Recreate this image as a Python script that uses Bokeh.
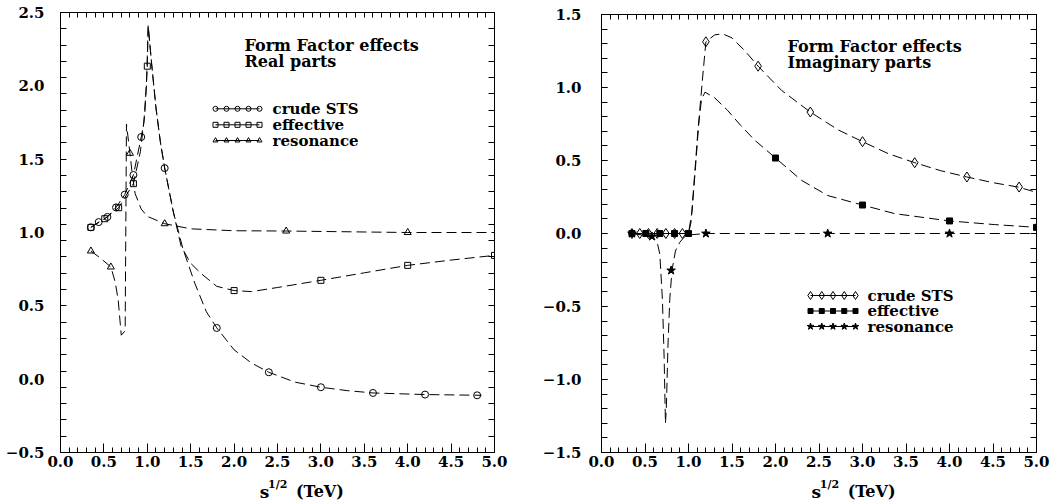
from bokeh.plotting import figure
from bokeh.models import Range1d, FixedTicker, LinearAxis, Label, CustomJSTickFormatter
from bokeh.layouts import row, column
from bokeh.core.properties import value
from bokeh.embed import file_html
from bokeh.resources import INLINE

# ---------------- data ----------------
# markers
crude_x = [0.35, 0.44, 0.54, 0.64, 0.74, 0.84, 0.93, 1.2, 1.8, 2.4, 3.0, 3.6, 4.2, 4.8]
crude_re = [1.035, 1.071, 1.106, 1.171, 1.258, 1.392, 1.651, 1.439, 0.349, 0.047, -0.055, -0.094, -0.105, -0.110]
crude_im = [0, 0, 0, 0, 0, 0, 0, 1.313, 1.146, 0.832, 0.629, 0.485, 0.387, 0.318]
eff_x = [0.35, 0.51, 0.67, 0.84, 1.0, 2.0, 3.0, 4.0, 5.0]
eff_re = [1.035, 1.094, 1.169, 1.333, 2.134, 0.604, 0.674, 0.776, 0.844]
eff_im = [0, 0, 0, 0, 0, 0.517, 0.195, 0.086, 0.042]
res_x = [0.35, 0.58, 0.80, 1.2, 2.6, 4.0]
res_re = [0.874, 0.765, 1.54, 1.06, 1.01, 1.0]
res_im = [0, -0.02, -0.253, 0, 0, 0]

# dashed curves, real parts
crude_re_cx = [0.35, 0.44, 0.54, 0.64, 0.74, 0.84, 0.93, 0.96, 0.99, 1.01, 1.05, 1.1, 1.15, 1.2, 1.3, 1.41, 1.55, 1.68, 1.8, 2.0, 2.2, 2.4, 2.7, 3.0, 3.3, 3.6, 4.2, 4.85]
crude_re_cy = [1.035, 1.071, 1.106, 1.171, 1.258, 1.392, 1.651, 1.75, 2.0, 2.41, 2.15, 1.85, 1.62, 1.44, 1.14, 0.89, 0.65, 0.46, 0.35, 0.2, 0.11, 0.047, -0.02, -0.055, -0.078, -0.094, -0.105, -0.11]
eff_re_cx = [0.35, 0.51, 0.67, 0.84, 0.92, 0.97, 1.0, 1.01, 1.05, 1.1, 1.15, 1.2, 1.3, 1.39, 1.5, 1.62, 1.8, 2.0, 2.2, 2.5, 3.0, 3.5, 4.0, 4.5, 5.0]
eff_re_cy = [1.035, 1.094, 1.169, 1.333, 1.55, 1.8, 2.134, 2.41, 2.15, 1.85, 1.62, 1.44, 1.14, 0.905, 0.79, 0.72, 0.633, 0.604, 0.597, 0.625, 0.674, 0.725, 0.776, 0.812, 0.844]
res_re_cx = [0.35, 0.45, 0.58, 0.63, 0.665, 0.70, 0.745, 0.76, 0.80, 0.83, 0.86, 0.93, 1.0, 1.2, 1.5, 2.0, 2.6, 4.0, 5.0]
res_re_cy = [0.874, 0.83, 0.765, 0.663, 0.538, 0.30, 0.33, 1.74, 1.54, 1.38, 1.265, 1.16, 1.11, 1.06, 1.025, 1.012, 1.01, 1.0, 1.0]

# dashed curves, imaginary parts
crude_im_cx = [0.35, 0.93, 1.0, 1.04, 1.08, 1.13, 1.17, 1.2, 1.3, 1.39, 1.5, 1.65, 1.8, 2.07, 2.4, 2.72, 3.0, 3.3, 3.6, 3.9, 4.2, 4.52, 4.79, 4.98]
crude_im_cy = [0, 0, 0, 0.15, 0.45, 0.85, 1.12, 1.313, 1.36, 1.368, 1.34, 1.25, 1.146, 0.98, 0.832, 0.71, 0.629, 0.546, 0.485, 0.43, 0.387, 0.346, 0.318, 0.285]
eff_im_cx = [0.35, 1.0, 1.03, 1.07, 1.11, 1.15, 1.19, 1.3, 1.45, 1.6, 1.76, 2.0, 2.3, 2.6, 3.0, 3.37, 4.0, 4.52, 5.0]
eff_im_cy = [0, 0, 0.08, 0.4, 0.72, 0.92, 0.968, 0.93, 0.843, 0.74, 0.64, 0.517, 0.364, 0.26, 0.195, 0.136, 0.086, 0.061, 0.042]
res_im_cx = [0.35, 0.58, 0.64, 0.67, 0.70, 0.72, 0.735, 0.745, 0.765, 0.785, 0.81, 0.85, 0.9, 0.95, 1.0, 1.2, 2.6, 4.0, 5.0]
res_im_cy = [0, -0.02, -0.06, -0.14, -0.45, -0.85, -1.30, -1.2, -0.75, -0.45, -0.253, -0.12, -0.06, -0.025, -0.01, 0, 0, 0, 0]

series_names = ["crude STS", "effective", "resonance"]
x_major = [0.5 * k for k in range(11)]
x_minor = [0.1 * k for k in range(51)]

FONT = "DejaVu Serif"
TICK_FS = "15px"
DASH = "10 5"

fmt = CustomJSTickFormatter(code="return tick.toFixed(1).replace('-', '\u2212');")
blank = CustomJSTickFormatter(code="return '';")


def make_panel(width, ml, mr, mt, mb, y0, y1, y_major, y_minor, ystand):
    p = figure(width=width, height=476, x_range=Range1d(0, 5), y_range=Range1d(y0, y1),
               output_backend="svg", toolbar_location=None,
               min_border_left=ml, min_border_right=mr, min_border_top=mt, min_border_bottom=mb)
    p.xgrid.visible = False
    p.ygrid.visible = False
    p.outline_line_color = "black"
    p.outline_line_width = 1
    p.background_fill_color = "white"
    p.border_fill_color = "white"

    xa = p.xaxis[0]
    xa.ticker = FixedTicker(ticks=x_major, minor_ticks=x_minor)
    xa.formatter = fmt
    xa.major_tick_in = 9
    xa.major_tick_out = 0
    xa.minor_tick_in = 5
    xa.minor_tick_out = 0
    xa.major_label_standoff = 3
    ya = p.yaxis[0]
    ya.ticker = FixedTicker(ticks=y_major, minor_ticks=y_minor)
    ya.formatter = fmt
    ya.major_tick_in = 0
    ya.major_tick_out = 0
    ya.minor_tick_in = 6
    ya.minor_tick_out = 0
    ya.major_label_standoff = ystand
    for a in (xa, ya):
        a.major_label_text_font = FONT
        a.major_label_text_font_style = "bold"
        a.major_label_text_font_size = TICK_FS
        a.major_label_text_color = "black"
        a.axis_line_color = "black"
        a.major_tick_line_color = "black"
        a.minor_tick_line_color = "black"

    top = LinearAxis(ticker=FixedTicker(ticks=x_minor, minor_ticks=[]), formatter=blank,
                     major_tick_in=5, major_tick_out=0, major_label_standoff=0,
                     major_label_text_font_size="1px", axis_line_color="black")
    right = LinearAxis(ticker=FixedTicker(ticks=y_minor, minor_ticks=[]), formatter=blank,
                       major_tick_in=6, major_tick_out=0, major_label_standoff=0,
                       major_label_text_font_size="1px", axis_line_color="black")
    p.add_layout(top, "above")
    p.add_layout(right, "right")
    return p


def add_text(p, x, y, text, size="15px", baseline="alphabetic"):
    p.add_layout(Label(x=x, y=y, x_units="screen", y_units="screen", text=text,
                       text_font=FONT, text_font_style="bold", text_font_size=size,
                       text_color="black", text_baseline=baseline, text_align="left"))


def caption(width, xs):
    # small strip under a panel holding the x-axis title s^{1/2} (TeV); units are pixels
    c = figure(width=width, height=26, x_range=Range1d(0, width), y_range=Range1d(0, 26),
               output_backend="svg", toolbar_location=None,
               min_border_left=0, min_border_right=0, min_border_top=0, min_border_bottom=0)
    c.axis.visible = False
    c.grid.visible = False
    c.outline_line_color = None
    c.background_fill_color = "white"
    c.border_fill_color = "white"
    common = dict(text_font=value(FONT), text_font_style="bold", text_color="black",
                  text_baseline="alphabetic", text_align="left")
    c.text(x=[xs], y=[11], text=["s"], text_font_size="17px", **common)
    c.text(x=[xs + 10], y=[18], text=["1/2"], text_font_size="11px", **common)
    c.text(x=[xs + 44], y=[11], text=["(TeV)"], text_font_size="16px", **common)
    return c


def legend_rows(p, fw, fh, y0, y1, x_left, x_right, x_text, rows, markers):
    # rows: frame-pixel y (from frame top) of the legend lines, converted to data space
    for (fy, name, mk) in zip(rows, series_names, markers):
        yd = y1 - fy / fh * (y1 - y0)
        xs = [(x_left + k * (x_right - x_left) / 4) * 5 / fw for k in range(5)]
        p.line([xs[0], xs[-1]], [yd, yd], line_color="black", line_width=1)
        p.scatter(xs, [yd] * 5, **mk)
        add_text(p, x_text, fh - fy, name, baseline="middle")


# ---------------- left panel: real parts ----------------
FW1, FH1 = 434, 440
p1 = make_panel(527, 60, 33, 12, 24, -0.5, 2.5,
                [-0.5 + 0.5 * k for k in range(7)], [-0.5 + k / 9 for k in range(28)], 16)
for cx, cy in ((crude_re_cx, crude_re_cy), (eff_re_cx, eff_re_cy), (res_re_cx, res_re_cy)):
    p1.line(cx, cy, line_color="black", line_width=1, line_dash=DASH)
mk_c = dict(marker="circle", size=7, fill_color=None, line_color="black", line_width=1)
mk_s = dict(marker="square", size=6, fill_color=None, line_color="black", line_width=1)
mk_t = dict(marker="triangle", size=7, fill_color=None, line_color="black", line_width=1)
p1.scatter(crude_x, crude_re, **mk_c)
p1.scatter(eff_x, eff_re, **mk_s)
p1.scatter(res_x, res_re, **mk_t)
add_text(p1, 184, FH1 - 33, "Form Factor effects", size="16px")
add_text(p1, 184, FH1 - 48.5, "Real parts", size="16px")
legend_rows(p1, FW1, FH1, -0.5, 2.5, 155, 199, 212, [96.3, 112.3, 128.0],
            [dict(mk_c, size=5), dict(mk_s, size=5), dict(mk_t, size=5)])
c1 = caption(527, 242)

# ---------------- right panel: imaginary parts ----------------
FW2, FH2 = 435, 438
p2 = make_panel(530, 74, 21, 14, 24, -1.5, 1.5,
                [-1.5 + 0.5 * k for k in range(7)], [-1.5 + 0.1 * k for k in range(31)], 20)
p2.yaxis[0].major_tick_in = 6
for cx, cy in ((crude_im_cx, crude_im_cy), (eff_im_cx, eff_im_cy), (res_im_cx, res_im_cy)):
    p2.line(cx, cy, line_color="black", line_width=1, line_dash=DASH)
mk_d = dict(marker="diamond", size=10, fill_color=None, line_color="black", line_width=1)
mk_fs = dict(marker="square", size=6, fill_color="black", line_color="black", line_width=1)
mk_st = dict(marker="star", size=9, fill_color="black", line_color="black", line_width=1)
p2.scatter(crude_x, crude_im, **mk_d)
p2.scatter(eff_x, eff_im, **mk_fs)
p2.scatter(res_x, res_im, **mk_st)
add_text(p2, 186, FH2 - 32, "Form Factor effects", size="16px")
add_text(p2, 186, FH2 - 48, "Imaginary parts", size="16px")
legend_rows(p2, FW2, FH2, -1.5, 1.5, 209, 254, 266, [281.0, 296.5, 312.0],
            [dict(mk_d, size=8), dict(mk_fs, size=5), dict(mk_st, size=7)])
c2 = caption(530, 256)

layout = row(column(p1, c1), column(p2, c2))
open("out.html", "w").write(file_html(layout, INLINE))
